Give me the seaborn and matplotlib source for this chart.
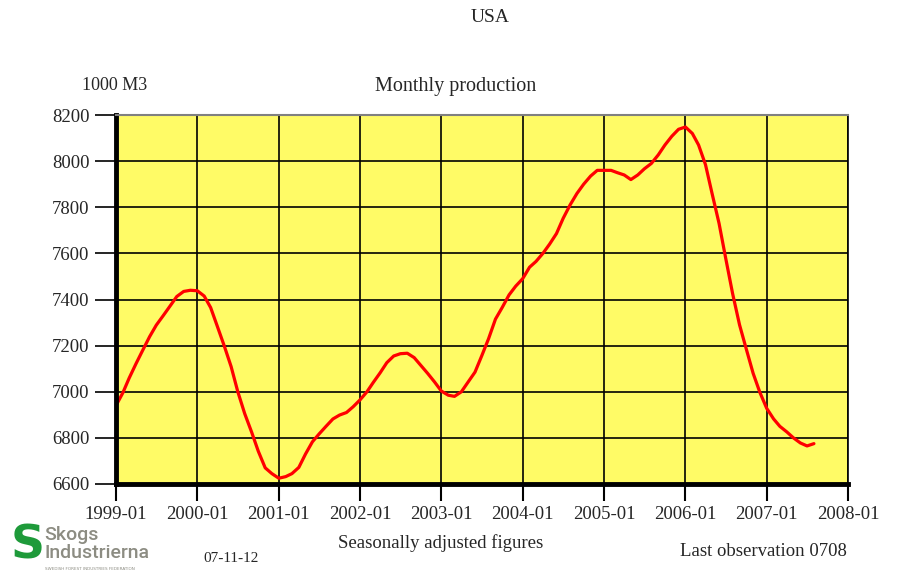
import matplotlib
matplotlib.use("Agg")
import matplotlib.pyplot as plt
import matplotlib.dates as mdates
import seaborn as sns
import pandas as pd
import numpy as np

# ---- data ----
start_month = "1999-01-01"
production = [
    6940, 6996, 7059, 7122, 7180, 7239, 7289, 7330, 7372, 7413, 7435, 7440,   # 1999
    7438, 7415, 7365, 7281, 7199, 7109, 7000, 6905, 6825, 6742, 6670, 6645,   # 2000
    6625, 6632, 6645, 6672, 6730, 6783, 6817, 6850, 6882, 6899, 6910, 6935,   # 2001
    6965, 7000, 7040, 7082, 7126, 7155, 7165, 7167, 7148, 7114, 7079, 7043,   # 2002
    7003, 6985, 6980, 7000, 7042, 7085, 7155, 7230, 7315, 7365, 7420, 7458,   # 2003
    7490, 7540, 7565, 7600, 7640, 7686, 7752, 7810, 7860, 7900, 7935, 7960,   # 2004
    7960, 7960, 7950, 7940, 7920, 7940, 7967, 7990, 8027, 8070, 8108, 8138,   # 2005
    8148, 8120, 8070, 7985, 7858, 7730, 7578, 7425, 7290, 7186, 7080, 6998,   # 2006
    6928, 6882, 6850, 6826, 6800, 6778, 6765, 6775,                           # 2007
]
x_tick_labels = ["1999-01", "2000-01", "2001-01", "2002-01", "2003-01",
                 "2004-01", "2005-01", "2006-01", "2007-01", "2008-01"]
y_ticks = [6600, 6800, 7000, 7200, 7400, 7600, 7800, 8000, 8200]

months = pd.date_range(start_month, periods=len(production), freq="MS")
df = pd.DataFrame({"month": months, "value": production})

sns.set_theme(style="white")
plt.rcParams["font.family"] = ["Liberation Serif", "DejaVu Serif"]

fig = plt.figure(figsize=(9, 5.79), dpi=100)
ax = fig.add_axes([116 / 900, 1 - 484 / 579, 732 / 900, 369 / 579])
ax.set_facecolor("#FFFB66")

sns.lineplot(data=df, x="month", y="value", ax=ax, color="#FF0000", linewidth=2.3)

tick_dates = pd.to_datetime([s + "-01" for s in x_tick_labels])
ax.set_xlim(mdates.date2num(tick_dates[0]), mdates.date2num(tick_dates[-1]))
ax.set_xticks(mdates.date2num(tick_dates))
ax.set_xticklabels(x_tick_labels, fontsize=13.5)
ax.set_ylim(y_ticks[0], y_ticks[-1])
ax.set_yticks(y_ticks)
ax.set_yticklabels([str(v) for v in y_ticks], fontsize=13.5)

ax.grid(True, color="black", linewidth=1.2)
ax.set_axisbelow(True)
ax.tick_params(axis="x", direction="out", length=12, width=1.5, color="black", pad=4, bottom=True)
ax.tick_params(axis="y", direction="out", length=15, width=1.2, color="black", pad=4, left=True)
ax.set_xlabel("")
ax.set_ylabel("")

for side in ["left", "bottom"]:
    ax.spines[side].set_color("black")
    ax.spines[side].set_linewidth(3.5)
ax.spines["right"].set_color("black")
ax.spines["right"].set_linewidth(1.2)
ax.spines["top"].set_color("#808080")
ax.spines["top"].set_linewidth(1.5)

# ---- texts ----
fig.text(490 / 900, 1 - 18 / 579, "USA", ha="center", va="center", fontsize=14)
fig.text(82 / 900, 1 - 86 / 579, "1000 M3", ha="left", va="center", fontsize=13)
fig.text(456 / 900, 1 - 86 / 579, "Monthly production", ha="center", va="center", fontsize=14.5)
fig.text(441 / 900, 1 - 543 / 579, "Seasonally adjusted figures", ha="center", va="center", fontsize=13.5)
fig.text(680 / 900, 1 - 551 / 579, "Last observation 0708", ha="left", va="center", fontsize=13.5)
fig.text(203 / 900, 1 - 558 / 579, "07-11-12", ha="left", va="center", fontsize=11)

# logo
fig.text(11 / 900, 1 - 546 / 579, "S", ha="left", va="center", fontsize=34, fontweight="bold",
         color="#1E9A3A", family=["DejaVu Sans"])
fig.text(44 / 900, 1 - 535 / 579, "Skogs", ha="left", va="center", fontsize=14,
         color="#8C8C82", family=["Roboto", "DejaVu Sans"], fontweight="medium")
fig.text(44 / 900, 1 - 553 / 579, "Industrierna", ha="left", va="center", fontsize=14,
         color="#8C8C82", family=["Roboto", "DejaVu Sans"], fontweight="medium")
fig.text(45 / 900, 1 - 569 / 579, "SWEDISH FOREST INDUSTRIES FEDERATION", ha="left", va="center",
         fontsize=3, color="#8C8C82", family=["DejaVu Sans"])

fig.savefig("out.png", dpi=100, facecolor="white")
